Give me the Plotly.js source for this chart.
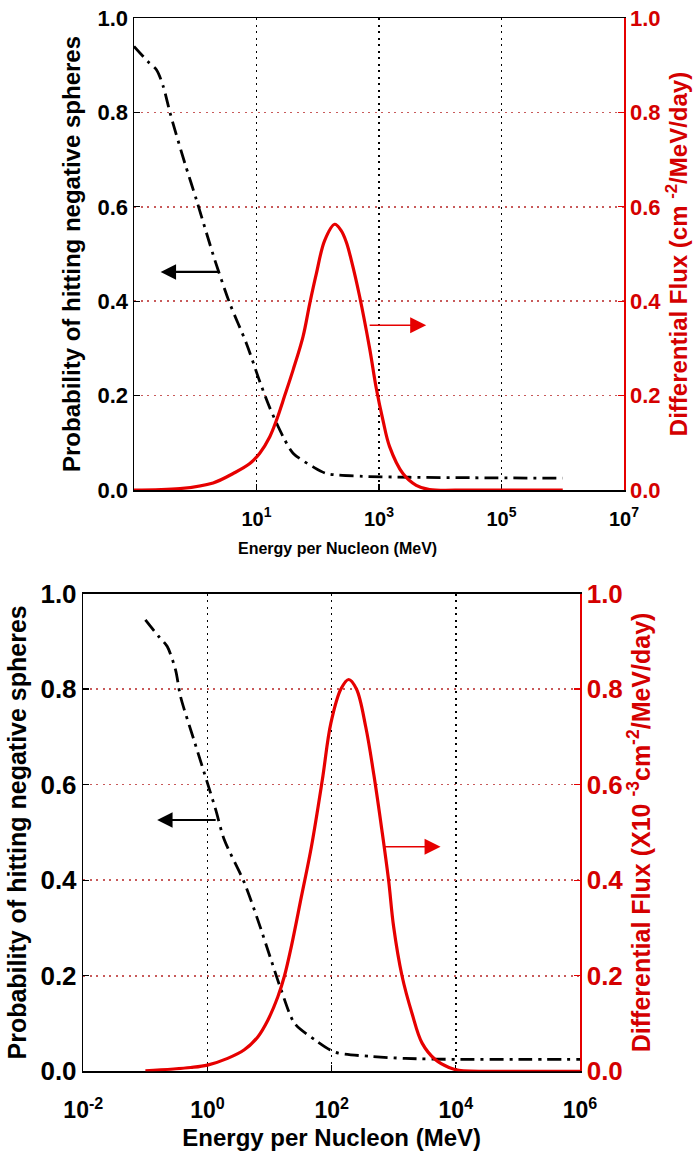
<!DOCTYPE html>
<html>
<head>
<meta charset="utf-8">
<script src="https://cdn.plot.ly/plotly-3.0.1.min.js"></script>
<style>
  html, body { margin: 0; padding: 0; background: #fff; }
  #chart { width: 694px; height: 1151px; }
</style>
</head>
<body>
<div id="chart"></div>
<script>
// ---------- data ----------
// Top panel
const topProbE = [0.1, 0.171, 0.234, 0.302, 0.386, 0.468, 0.678, 1.05, 1.53, 2.09, 3.67, 6.87, 11.3, 16.5, 27.2, 39.5, 83.8, 139, 548, 3160, 31600, 1e6];
const topProb  = [0.94, 0.907, 0.89, 0.854, 0.80, 0.762, 0.692, 0.614, 0.544, 0.487, 0.395, 0.31, 0.23, 0.174, 0.113, 0.078, 0.049, 0.035, 0.029, 0.027, 0.026, 0.025];
const topFluxE = [0.1, 0.562, 1.96, 4.16, 7.78, 11.3, 16.5, 21.2, 28.9, 39.5, 57.5, 74.0, 95.1, 130, 189, 240, 293, 353, 483, 703, 904, 1159, 1489, 2455, 4055, 6683, 31600, 1e6];
const topFlux  = [0, 0.003, 0.015, 0.035, 0.056, 0.078, 0.113, 0.148, 0.20, 0.254, 0.325, 0.395, 0.459, 0.529, 0.563, 0.55, 0.525, 0.487, 0.41, 0.30, 0.215, 0.148, 0.092, 0.035, 0.010, 0.001, 0, 0];
// Bottom panel
const botProbE = [0.1, 0.164, 0.225, 0.306, 0.369, 0.607, 1, 1.36, 1.86, 3.92, 6.46, 10.6, 15.4, 25.4, 53.5, 93.5, 128, 444, 1535, 1e4, 1e5, 1e6];
const botProb  = [0.945, 0.91, 0.889, 0.84, 0.784, 0.693, 0.603, 0.547, 0.485, 0.395, 0.317, 0.233, 0.17, 0.10, 0.066, 0.045, 0.038, 0.031, 0.027, 0.025, 0.025, 0.025];
const botFluxE = [0.1, 0.537, 1, 2.11, 3.92, 6.46, 9.38, 13.6, 17.4, 22.4, 32.5, 47.2, 70.8, 97.0, 141, 188, 251, 355, 479, 644, 826, 995, 1358, 1972, 2864, 4710, 7762, 11220, 1e5, 1e6];
const botFlux  = [0.001, 0.008, 0.013, 0.027, 0.045, 0.072, 0.107, 0.156, 0.20, 0.261, 0.365, 0.47, 0.61, 0.728, 0.80, 0.82, 0.80, 0.72, 0.62, 0.505, 0.40, 0.303, 0.20, 0.121, 0.059, 0.024, 0.008, 0.002, 0, 0];

// Tick labels
const topXTickVals = [10, 1e3, 1e5, 1e7];
const topXTickText = ['10<sup>1</sup>', '10<sup>3</sup>', '10<sup>5</sup>', '10<sup>7</sup>'];
const botXTickVals = [0.01, 1, 100, 1e4, 1e6];
const botXTickText = ['10<sup>-2</sup>', '10<sup>0</sup>', '10<sup>2</sup>', '10<sup>4</sup>', '10<sup>6</sup>'];
const yTickVals = [0, 0.2, 0.4, 0.6, 0.8, 1.0];
const yTickText = ['0.0', '0.2', '0.4', '0.6', '0.8', '1.0'];

// Text
const xTitle = 'Energy per Nucleon (MeV)';
const leftTitle = 'Probability of hitting negative spheres';
const topRightTitle = 'Differential Flux (cm <sup>-2</sup>/MeV/day)';
const botRightTitle = 'Differential Flux (X10 <sup>-3</sup>cm<sup>-2</sup>/MeV/day)';

// ---------- styles ----------
const RED = '#e60000';
const RED_TXT = '#d40000';
const GRID_RED = 'rgb(200,90,90)';
const SANS = 'Liberation Sans, Arial, sans-serif';
const DASHDOT = '14px,6px,3px,6px';
const GRIDDOT = '2px,4.5px';

const probLine = {color: '#000', width: 2.8, dash: DASHDOT, shape: 'spline', smoothing: 0.8};
const fluxLine = {color: RED, width: 3.2, shape: 'spline', smoothing: 1};

const traces = [
  {x: topProbE, y: topProb, xaxis: 'x', yaxis: 'y', mode: 'lines', line: probLine, hoverinfo: 'skip', showlegend: false},
  {x: topFluxE, y: topFlux, xaxis: 'x', yaxis: 'y2', mode: 'lines', line: fluxLine, cliponaxis: false, hoverinfo: 'skip', showlegend: false},
  {x: botProbE, y: botProb, xaxis: 'x2', yaxis: 'y3', mode: 'lines', line: probLine, hoverinfo: 'skip', showlegend: false},
  {x: botFluxE, y: botFlux, xaxis: 'x2', yaxis: 'y4', mode: 'lines', line: fluxLine, cliponaxis: false, hoverinfo: 'skip', showlegend: false}
];

function xAxis(domain, anchor, range, vals, text, tickSize, labelStandoff, title, titleSize, standoff) {
  return {
    type: 'log', domain: domain, anchor: anchor, range: range,
    tickmode: 'array', tickvals: vals, ticktext: text,
    ticks: 'inside', ticklen: 6, tickcolor: '#000', tickwidth: 1.2,
    ticklabelstandoff: labelStandoff,
    showline: true, linecolor: '#000', linewidth: 1.5, mirror: true,
    showgrid: true, gridcolor: '#000', gridwidth: 1.6, griddash: GRIDDOT,
    zeroline: false, layer: 'below traces',
    tickfont: {family: SANS, size: tickSize, color: '#000', weight: 'bold'},
    title: {text: title, font: {family: SANS, size: titleSize, color: '#000', weight: 'bold'}, standoff: standoff},
    fixedrange: true
  };
}
function yLeft(domain, anchor, tickSize, titleSize, standoff) {
  return {
    domain: domain, anchor: anchor, range: [0, 1],
    tickmode: 'array', tickvals: yTickVals, ticktext: yTickText,
    ticks: 'inside', ticklen: 6, tickcolor: '#000', tickwidth: 1.2,
    showline: true, linecolor: '#000', linewidth: 1.5,
    showgrid: true, gridcolor: GRID_RED, gridwidth: 1.6, griddash: GRIDDOT,
    zeroline: false, layer: 'below traces',
    tickfont: {family: SANS, size: tickSize, color: '#000', weight: 'bold'},
    title: {text: leftTitle, font: {family: SANS, size: titleSize, color: '#000', weight: 'bold'}, standoff: standoff},
    fixedrange: true
  };
}
function yRight(overlay, anchor, title, tickSize, titleSize, standoff) {
  return {
    overlaying: overlay, anchor: anchor, side: 'right', range: [0, 1],
    tickmode: 'array', tickvals: yTickVals, ticktext: yTickText,
    ticks: 'inside', ticklen: 6, tickcolor: RED, tickwidth: 1.2,
    showline: true, linecolor: RED, linewidth: 1.5,
    showgrid: false, zeroline: false, layer: 'below traces',
    tickfont: {family: SANS, size: tickSize, color: RED_TXT, weight: 'bold'},
    title: {text: title, font: {family: SANS, size: titleSize, color: RED_TXT, weight: 'bold'}, standoff: standoff},
    fixedrange: true
  };
}

const topXDom = [134 / 694, 624 / 694];
const topYDom = [1 - 490 / 1151, 1 - 18 / 1151];
const botXDom = [83.3 / 694, 580 / 694];
const botYDom = [1 - 1071.3 / 1151, 1 - 593.5 / 1151];

const layout = {
  width: 694, height: 1151,
  margin: {l: 0, r: 0, t: 0, b: 0},
  paper_bgcolor: '#fff', plot_bgcolor: '#fff',
  showlegend: false,
  xaxis:  xAxis(topXDom, 'y', [-1, 7], topXTickVals, topXTickText, 20, 10, '', 15, 10),
  yaxis:  yLeft(topYDom, 'x', 22, 24, 10),
  yaxis2: yRight('y', 'x', topRightTitle, 22, 24, 10),
  xaxis2: xAxis(botXDom, 'y3', [-2, 6], botXTickVals, botXTickText, 23, 18, xTitle, 24, 8),
  yaxis3: yLeft(botYDom, 'x2', 26, 25, 6),
  yaxis4: yRight('y3', 'x2', botRightTitle, 26, 25, 6),
  annotations: [
    // top panel x-axis title (offset to the left of the axis centre, as in the reference)
    {xref: 'paper', yref: 'paper', x: 337 / 694, y: 1 - 548 / 1151, xanchor: 'center', yanchor: 'middle',
     text: xTitle, showarrow: false, font: {family: SANS, size: 16, color: '#000', weight: 'bold'}},
    // "read left axis" / "read right axis" arrows
    {xref: 'x', yref: 'y', x: -0.565, y: 0.462, ax: 59, ay: 0, text: '', showarrow: true,
     arrowhead: 2, arrowsize: 1.4, arrowwidth: 2.2, arrowcolor: '#000'},
    {xref: 'x', yref: 'y2', x: 3.77, y: 0.349, ax: -58, ay: 0, text: '', showarrow: true,
     arrowhead: 2, arrowsize: 2, arrowwidth: 1.6, arrowcolor: RED},
    {xref: 'x2', yref: 'y3', x: -0.81, y: 0.526, ax: 60, ay: 0, text: '', showarrow: true,
     arrowhead: 2, arrowsize: 1.4, arrowwidth: 2.2, arrowcolor: '#000'},
    {xref: 'x2', yref: 'y4', x: 3.754, y: 0.47, ax: -57, ay: 0, text: '', showarrow: true,
     arrowhead: 2, arrowsize: 2, arrowwidth: 1.6, arrowcolor: RED}
  ]
};

Plotly.newPlot('chart', traces, layout, {staticPlot: true, displayModeBar: false});
</script>
</body>
</html>
